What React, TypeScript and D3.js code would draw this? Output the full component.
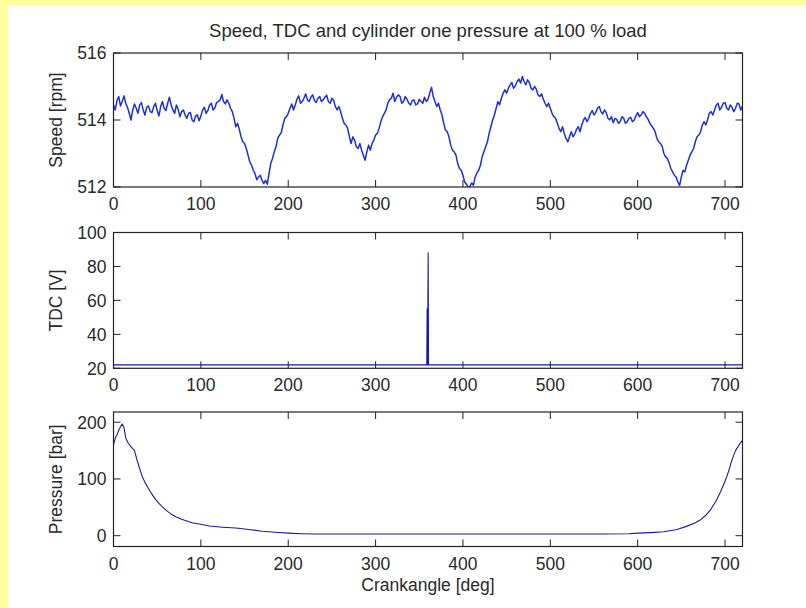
import React from 'react';
import * as d3 from 'd3';

const W = 806;
const H = 608;

const title = 'Speed, TDC and cylinder one pressure at 100 % load';
const xLabel = 'Crankangle [deg]';
const angleTicks = [0, 100, 200, 300, 400, 500, 600, 700];

const speedTicks = [512, 514, 516];
const tdcTicks = [20, 40, 60, 80, 100];
const pressureTicks = [0, 100, 200];

// speed sampled every 2 degrees, 0..720
const speedStep = 2;
const speedValues = [
  514.45, 514.3, 514.58, 514.7, 514.42, 514.55, 514.72, 514.5, 514.38, 514.2,
  514.0, 514.3, 514.48, 514.35, 514.2, 514.45, 514.52, 514.3, 514.15, 514.38,
  514.42, 514.25, 514.22, 514.4, 514.5, 514.28, 514.12, 514.4, 514.55, 514.35,
  514.28, 514.5, 514.68, 514.45, 514.3, 514.2, 514.45, 514.32, 514.1, 514.25,
  514.3, 514.15, 514.05, 514.2, 514.22, 514.0, 513.95, 514.12, 514.15, 513.98,
  514.12, 514.3, 514.38, 514.2, 514.28, 514.45, 514.5, 514.3, 514.36, 514.52,
  514.55, 514.6, 514.76, 514.55, 514.48, 514.6, 514.5, 514.35, 514.25, 514.05,
  513.8, 513.9, 513.72, 513.5, 513.35, 513.3, 513.15, 512.95, 512.75, 512.65,
  512.5, 512.4, 512.22, 512.3, 512.35, 512.2, 512.1, 512.2, 512.08, 512.4,
  512.7, 512.85, 513.05, 513.2, 513.45, 513.55, 513.62, 513.85, 514.05, 514.1,
  514.2, 514.35, 514.48, 514.3, 514.45, 514.62, 514.72, 514.5, 514.55, 514.65,
  514.78, 514.6, 514.55, 514.68, 514.75, 514.58, 514.52, 514.65, 514.7, 514.55,
  514.6, 514.68, 514.74, 514.55, 514.5, 514.65, 514.58, 514.4, 514.3, 514.4,
  514.25, 514.05, 513.9, 513.85, 513.75, 513.5, 513.3, 513.5, 513.4, 513.2,
  513.15, 513.3, 513.1, 512.95, 512.8, 513.05, 513.25, 513.1, 513.3, 513.4,
  513.55, 513.6, 513.75, 513.95, 514.1, 514.2, 514.3, 514.5, 514.6, 514.65,
  514.8, 514.55, 514.68, 514.75, 514.7, 514.5, 514.55, 514.7, 514.62, 514.5,
  514.45, 514.58, 514.6, 514.45, 514.48, 514.62, 514.55, 514.5, 514.68, 514.55,
  514.62, 514.8, 514.98, 514.7, 514.55, 514.4, 514.5, 514.3, 514.15, 513.9,
  513.7, 513.65, 513.5, 513.25, 513.1, 513.05, 512.95, 512.7, 512.55, 512.5,
  512.35, 512.15, 512.08, 512.0, 512.02, 512.12, 512.05, 512.3, 512.42, 512.5,
  512.65, 512.9, 513.05, 513.2, 513.35, 513.6, 513.8, 514.0, 514.15, 514.35,
  514.55, 514.45, 514.65, 514.8, 514.9, 514.8, 514.95, 515.05, 515.12, 514.95,
  515.02, 515.15, 515.22, 515.1, 515.3, 515.15, 515.05, 515.2, 515.12, 514.95,
  514.9, 515.0, 514.92, 514.75, 514.7, 514.78, 514.62, 514.5, 514.4, 514.5,
  514.35, 514.2, 514.1, 514.05, 513.9, 513.75, 513.65, 513.8, 513.6, 513.45,
  513.35, 513.5, 513.65, 513.5, 513.58, 513.72, 513.8, 513.65, 513.85, 514.0,
  514.08, 513.95, 514.05, 514.2, 514.28, 514.15, 514.22, 514.35, 514.4, 514.25,
  514.18, 514.3, 514.22, 514.05, 514.0, 514.1, 513.92, 514.05, 514.02, 513.9,
  513.95, 514.1, 514.05, 513.9, 513.95, 514.05, 514.08, 513.95, 514.0, 514.12,
  514.22, 514.1, 514.15, 514.25, 514.2, 514.1, 514.02, 513.9, 513.82, 513.75,
  513.65, 513.45, 513.35, 513.3, 513.22, 513.0, 512.9, 512.85, 512.72, 512.55,
  512.45, 512.35, 512.3, 512.15, 512.05, 512.3, 512.5, 512.45, 512.65, 512.8,
  512.95, 513.05, 513.15, 513.35, 513.5, 513.55, 513.65, 513.85, 513.95, 513.85,
  514.0, 514.2, 514.25, 514.15, 514.3, 514.45, 514.5, 514.3, 514.38, 514.5,
  514.52, 514.35, 514.3, 514.45, 514.38, 514.25, 514.35, 514.5, 514.48, 514.3,
  514.42,
];

const tdcAngles = [0, 358.6, 359, 359.4, 359.8, 360.2, 360.6, 361, 720];
const tdcVolts = [22, 22, 55, 22, 55, 88, 22, 22, 22];

const pressureAngles = [
  0, 2, 4, 6, 8, 10, 12, 14, 17, 20, 24, 27, 30, 33, 36, 39, 42, 45, 48, 52,
  56, 60, 66, 72, 78, 84, 90, 98, 110, 125, 140, 155, 170, 185, 200, 215, 230,
  260, 300, 400, 500, 560, 590, 600, 615, 630, 645, 655, 665, 672, 678, 684,
  690, 695, 700, 704, 708, 712, 716, 720,
];
const pressureValues = [
  160, 172, 178, 186, 192, 197, 191, 172, 163, 157, 150, 133, 118, 104, 94, 86,
  78, 71, 64, 57, 51, 45, 38, 33, 29, 26, 23, 20.5, 17, 15, 13.5, 11, 8, 6, 4.5,
  3.5, 3, 3, 3, 3, 3, 3, 3.5, 4.5, 5.5, 7, 11, 16, 22, 28, 36, 47, 62, 78, 96,
  113, 134, 150, 160, 168,
];

const FONT = '"Liberation Sans", Arial, Helvetica, sans-serif';
const LEFT = 113.5;
const RIGHT = 742.5;
const TICK = 7;
const TEXT = '#2a2a2a';

type Panel = {
  top: number;
  bottom: number;
  domain: [number, number];
  ticks: number[];
  label: string;
  xs: number[];
  ys: number[];
  color: string;
  width: number;
  id: string;
};

export default function App() {
  const speedAngles = speedValues.map((_, i) => i * speedStep);
  const x = d3.scaleLinear().domain([0, 720]).range([LEFT, RIGHT]);

  const panels: Panel[] = [
    { top: 53, bottom: 187, domain: [512, 516], ticks: speedTicks, label: 'Speed [rpm]', xs: speedAngles, ys: speedValues, color: '#1f2fd0', width: 1.5, id: 'p1' },
    { top: 232.5, bottom: 368.3, domain: [20, 100], ticks: tdcTicks, label: 'TDC [V]', xs: tdcAngles, ys: tdcVolts, color: '#1a1a9a', width: 1.1, id: 'p2' },
    { top: 412, bottom: 546.5, domain: [-19, 218], ticks: pressureTicks, label: 'Pressure [bar]', xs: pressureAngles, ys: pressureValues, color: '#1c1c90', width: 1.1, id: 'p3' },
  ];

  return (
    <svg width={W} height={H} style={{ position: 'fixed', left: 0, top: 0 }} fontFamily={FONT}>
      <rect x={0} y={0} width={W} height={H} fill="#ffff9c" />
      <rect x={8} y={5} width={W - 8} height={H - 5} fill="#ffffff" />
      <text x={(LEFT + RIGHT) / 2} y={37} textAnchor="middle" fontSize={18.5} fill={TEXT}>{title}</text>
      {panels.map((p) => {
        const y = d3.scaleLinear().domain(p.domain).range([p.bottom, p.top]);
        const line = d3.line<number>().x((_, i) => x(p.xs[i])).y((d) => y(d));
        const midY = (p.top + p.bottom) / 2;
        return (
          <g key={p.id}>
            <defs>
              <clipPath id={'clip-' + p.id}>
                <rect x={LEFT} y={p.top} width={RIGHT - LEFT} height={p.bottom - p.top} />
              </clipPath>
            </defs>
            <path d={line(p.ys) || ''} fill="none" stroke={p.color} strokeWidth={p.width} clipPath={`url(#clip-${p.id})`} strokeLinejoin="round" />
            <rect x={LEFT} y={p.top} width={RIGHT - LEFT} height={p.bottom - p.top} fill="none" stroke="#222" strokeWidth={1.2} />
            {angleTicks.map((t) => (
              <g key={'x' + t}>
                <line x1={x(t)} x2={x(t)} y1={p.bottom} y2={p.bottom - TICK} stroke="#222" strokeWidth={1} />
                <line x1={x(t)} x2={x(t)} y1={p.top} y2={p.top + TICK} stroke="#222" strokeWidth={1} />
                <text x={x(t)} y={p.bottom + 23} textAnchor="middle" fontSize={17.5} fill={TEXT}>{t}</text>
              </g>
            ))}
            {p.ticks.map((t) => (
              <g key={'y' + t}>
                <line x1={LEFT} x2={LEFT + TICK} y1={y(t)} y2={y(t)} stroke="#222" strokeWidth={1} />
                <line x1={RIGHT} x2={RIGHT - TICK} y1={y(t)} y2={y(t)} stroke="#222" strokeWidth={1} />
                <text x={LEFT - 7} y={y(t)} dy="0.36em" textAnchor="end" fontSize={17.5} fill={TEXT}>{t}</text>
              </g>
            ))}
            <text transform={`translate(62,${midY}) rotate(-90)`} textAnchor="middle" fontSize={17.5} fill={TEXT}>{p.label}</text>
          </g>
        );
      })}
      <text x={(LEFT + RIGHT) / 2} y={591} textAnchor="middle" fontSize={17.5} fill={TEXT}>{xLabel}</text>
    </svg>
  );
}
